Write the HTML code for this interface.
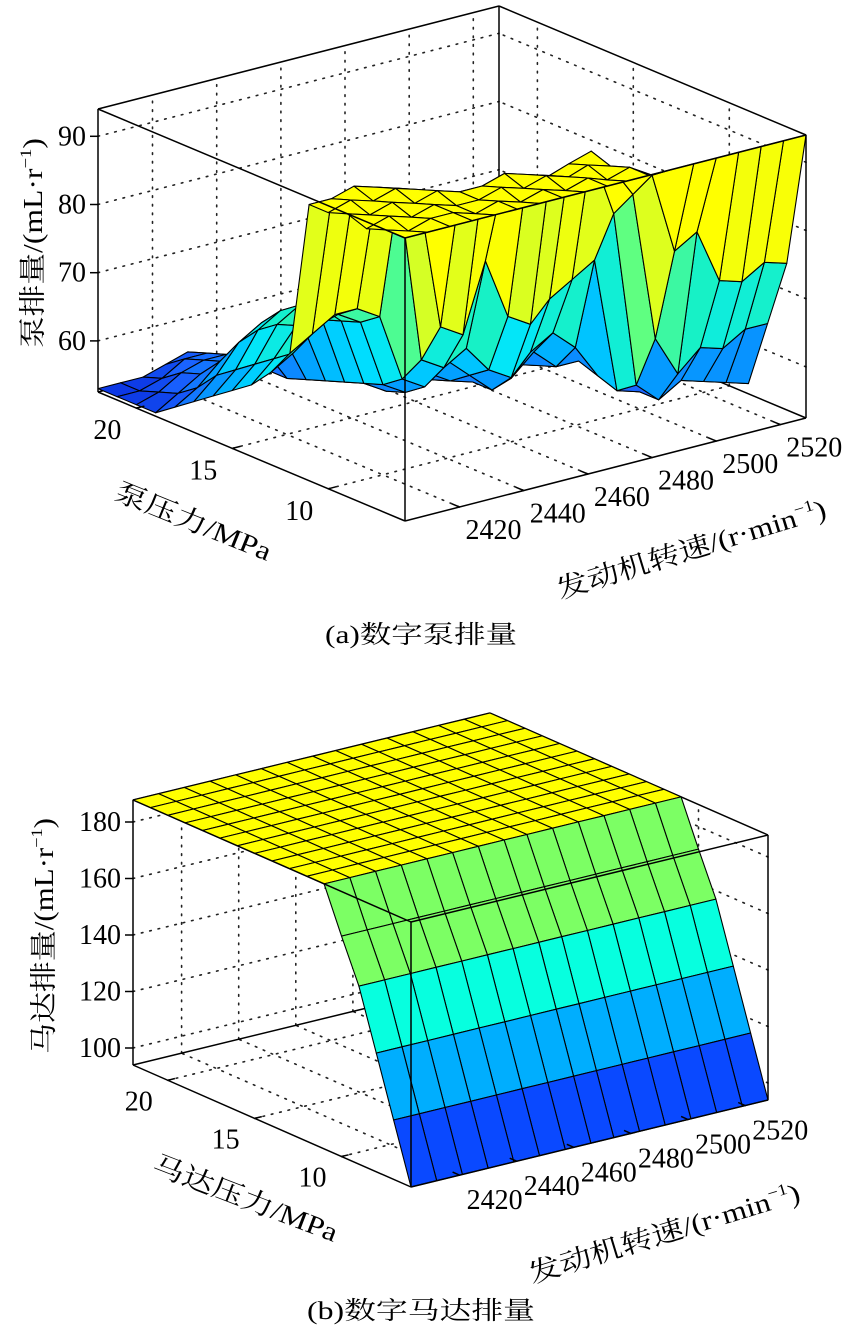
<!DOCTYPE html>
<html><head><meta charset="utf-8">
<style>
html,body{margin:0;padding:0;background:#fff;}
svg{display:block;}
text{font-family:"Liberation Serif","Times New Roman",Times,"Noto Serif CJK SC","Noto Sans CJK SC",serif;fill:#000;}
</style></head>
<body>
<svg id="fig" width="850" height="1329" viewBox="0 0 850 1329" xmlns="http://www.w3.org/2000/svg" font-family="'Liberation Serif', 'Noto Serif CJK SC', serif">
  <rect x="0" y="0" width="850" height="1329" fill="#fff"/>
  <g id="panelA"></g>
  <g id="panelB"></g>

  <text transform="translate(42,243) rotate(-90)" text-anchor="middle" font-size="27" textLength="210" lengthAdjust="spacingAndGlyphs">泵排量/(mL·r<tspan font-size="16" dy="-11">−1</tspan><tspan dy="11">)</tspan></text>
  <text transform="translate(190,530) rotate(22)" text-anchor="middle" font-size="27" textLength="166" lengthAdjust="spacingAndGlyphs">泵压力/MPa</text>
  <text transform="translate(694,558) rotate(-17)" text-anchor="middle" font-size="27" textLength="280" lengthAdjust="spacingAndGlyphs">发动机转速/(r·min<tspan font-size="16" dy="-11">−1</tspan><tspan dy="11">)</tspan></text>
  <text x="421" y="643" text-anchor="middle" font-size="25" textLength="192" lengthAdjust="spacingAndGlyphs">(a)数字泵排量</text>

  <text transform="translate(53,936) rotate(-90)" text-anchor="middle" font-size="27" textLength="236" lengthAdjust="spacingAndGlyphs">马达排量/(mL·r<tspan font-size="16" dy="-11">−1</tspan><tspan dy="11">)</tspan></text>
  <text transform="translate(242,1207) rotate(21)" text-anchor="middle" font-size="27" textLength="196" lengthAdjust="spacingAndGlyphs">马达压力/MPa</text>
  <text transform="translate(667,1242) rotate(-17)" text-anchor="middle" font-size="27" textLength="282" lengthAdjust="spacingAndGlyphs">发动机转速/(r·min<tspan font-size="16" dy="-11">−1</tspan><tspan dy="11">)</tspan></text>
  <text x="421" y="1319" text-anchor="middle" font-size="25" textLength="228" lengthAdjust="spacingAndGlyphs">(b)数字马达排量</text>
</svg>
<script>
// ---------- Panel A data ----------
const speedsA = [2403,2410,2417,2424,2431,2438,2445,2452,2459,2466,2472,2479,2486,2493,2500,2507,2514,2521,2528];
const pressuresA = [6,7,8,9,10,11,12,13,14,15,16,17,18,19,20,21,22];
const zA = [
 [94,94,94,94,94,94,94,94,94,94,94,94,94,94,94,94,94,94,94],
 [94,93,94,94,93,94,93,94,93,94,93,94,92,80,82,74,73,75,74],
 [93,94,93,94,93,93,94,93,94,93,94,93,88,66,60,63,62,64,64],
 [94,93,94,93,94,93,93,94,93,92,93,94,84,58,55,57,56,55,54],
 [93,94,93,94,93,72,70,80,71,69,72,74,76,56,55,56,55,54,54],
 [93,93,94,93,92,66,64,66,62,60,63,65,62,57,56,57,56,55,55],
 [70,72,74,74,72,62,60,63,60,57,58,61,58,58,57,58,57,56,56],
 [66,68,71,72,70,60,58,60,58,57,57,58,57,57,56,57,56,55,55],
 [63,66,70,72,69,59,57,58,57,56,56,57,56,56,56,56,55,55,55],
 [61,64,69,71,68,58,57,57,56,55,55,56,55,56,55,56,55,54,54],
 [59,62,67,69,66,57,56,56,55,55,55,55,55,55,55,55,54,54,54],
 [57,60,64,66,63,56,55,55,55,54,54,54,54,55,54,55,54,54,54],
 [55,57,60,62,60,55,55,54,54,54,54,54,54,54,54,54,54,53,53],
 [53,55,57,58,57,55,54,54,54,53,53,53,53,54,54,54,53,53,53],
 [53,54,56,57,57,54,54,53,53,53,53,53,53,53,53,53,53,53,53],
 [53,53,54,56,56,54,53,53,53,53,53,53,53,53,53,53,53,53,53],
 [53,53,53,54,55,53,53,53,53,53,53,53,53,53,53,53,53,53,53]
];
const zTicksA = [60,70,80,90];
const pTicksA = [10,15,20];
const sTicksA = [2420,2440,2460,2480,2500,2520];

// ---------- Panel B data ----------
const speedsB = [2403,2412,2421,2430,2439,2448,2457,2466,2474,2483,2492,2501,2510,2519,2528];
const pressuresB = [6,7,8,9,10,11,12,13,14,15,16,17,18,19,20,21,22];
const zRowsB = [94,115,136,157,172,187.8,187.8,187.8,187.8,187.8,187.8,187.8,187.8,187.8,187.8,187.8,187.8];
const zTicksB = [100,120,140,160,180];
const pTicksB = [10,15,20];
const sTicksB = [2420,2440,2460,2480,2500,2520];

// ---------- rendering ----------
const NS = 'http://www.w3.org/2000/svg';
const FONT = "'Liberation Serif', 'Times New Roman', Times, serif";
function mk(tag, attrs, parent){
  const e = document.createElementNS(NS, tag);
  for (const k in attrs) e.setAttribute(k, attrs[k]);
  parent.appendChild(e);
  return e;
}
function hex2rgb(h){ return [parseInt(h.substr(1,2),16),parseInt(h.substr(3,2),16),parseInt(h.substr(5,2),16)]; }
function cmap(stops, w){
  w = Math.max(0, Math.min(1, w));
  for (let k = 1; k < stops.length; k++){
    if (w <= stops[k][0]){
      const a = stops[k-1], b = stops[k];
      const t = (w - a[0]) / Math.max(1e-9, b[0] - a[0]);
      const ca = hex2rgb(a[1]), cb = hex2rgb(b[1]);
      return 'rgb(' + ca.map((c,i)=>Math.round(c + (cb[i]-c)*t)).join(',') + ')';
    }
  }
  return stops[stops.length-1][1];
}

function drawPanel(cfg, speeds, pressures, zAt, zTicks, pTicks, sTicks, g, tag){
  const [s0,s1] = cfg.s, [p0,p1] = cfg.p, [z0,z1] = cfg.z;
  const F = cfg.F, L = cfg.L, R = cfg.R, H = cfg.H;
  function proj(s, p, z){
    const u = (p - p0)/(p1 - p0), v = (s - s0)/(s1 - s0), w = (z - z0)/(z1 - z0);
    return [F[0] + u*(L[0]-F[0]) + v*(R[0]-F[0]),
            F[1] + u*(L[1]-F[1]) + v*(R[1]-F[1]) - w*H,
            cfg.d[0]*u + cfg.d[1]*v + cfg.d[2]*w];
  }
  function line(a, b, attrs, name){
    const e = mk('line', Object.assign({x1:a[0].toFixed(1), y1:a[1].toFixed(1), x2:b[0].toFixed(1), y2:b[1].toFixed(1)}, attrs), g);
    
    
    return e;
  }
  const dotted = {stroke:'#222', 'stroke-width':1.6, 'stroke-dasharray':'1.6 7', 'stroke-linecap':'round'};
  const solid = {stroke:'#000', 'stroke-width':1.5};

  sTicks.forEach(s => {
    line(proj(s,p0,z0), proj(s,p1,z0), dotted, 'floor-grid-speed');
    line(proj(s,p1,z0), proj(s,p1,z1), dotted, 'back-wall-grid-speed');
  });
  pTicks.forEach(p => {
    line(proj(s0,p,z0), proj(s1,p,z0), dotted, 'floor-grid-pressure');
    line(proj(s1,p,z0), proj(s1,p,z1), dotted, 'side-wall-grid-pressure');
  });
  zTicks.forEach(z => {
    line(proj(s0,p1,z), proj(s1,p1,z), dotted, 'back-wall-grid-z');
    line(proj(s1,p0,z), proj(s1,p1,z), dotted, 'side-wall-grid-z');
  });
  line(proj(s1,p1,z0), proj(s1,p1,z1), solid, 'box-edge-back-vertical');
  line(proj(s0,p1,z1), proj(s1,p1,z1), solid, 'box-edge-back-top-left');
  line(proj(s1,p1,z1), proj(s1,p0,z1), solid, 'box-edge-back-top-right');
  line(proj(s0,p1,z0), proj(s1,p1,z0), solid, 'box-edge-back-bottom-left');
  line(proj(s1,p1,z0), proj(s1,p0,z0), solid, 'box-edge-back-bottom-right');

  const faces = [];
  for (let i = 0; i < pressures.length - 1; i++){
    for (let j = 0; j < speeds.length - 1; j++){
      const zs = [zAt(i,j), zAt(i,j+1), zAt(i+1,j+1), zAt(i+1,j)];
      const pts = [proj(speeds[j],pressures[i],zs[0]), proj(speeds[j+1],pressures[i],zs[1]),
                   proj(speeds[j+1],pressures[i+1],zs[2]), proj(speeds[j],pressures[i+1],zs[3])];
      const zm = (zs[0]+zs[1]+zs[2]+zs[3])/4;
      const depth = (pts[0][2]+pts[1][2]+pts[2][2]+pts[3][2])/4;
      faces.push({pts, w:(zm - z0)/(z1 - z0), depth});
    }
  }
  faces.sort((a,b) => b.depth - a.depth);
  const sg = mk('g', {}, g);
  
  
  faces.forEach(f => {
    const e = mk('polygon', {
      points: f.pts.map(p => p[0].toFixed(1) + ',' + p[1].toFixed(1)).join(' '),
      fill: cmap(cfg.stops, f.w), stroke:'#000', 'stroke-width':1.1, 'stroke-linejoin':'round'
    }, sg);
    
    
  });

  line(proj(s0,p0,z0), proj(s0,p0,z1), solid, 'box-edge-front-vertical');
  line(proj(s0,p0,z0), proj(s0,p1,z0), solid, 'pressure-axis-line');
  line(proj(s0,p0,z0), proj(s1,p0,z0), solid, 'speed-axis-line');
  line(proj(s0,p0,z1), proj(s0,p1,z1), solid, 'box-edge-top-left');
  line(proj(s0,p0,z1), proj(s1,p0,z1), solid, 'box-edge-top-right');
  line(proj(s0,p1,z0), proj(s0,p1,z1), solid, 'z-axis-line');
  line(proj(s1,p0,z0), proj(s1,p0,z1), solid, 'box-edge-right-vertical');

  zTicks.forEach(z => {
    const a = proj(s0,p1,z);
    line([a[0]-8,a[1]], a, solid, 'z-tick');
    const t = mk('text', {x:(a[0]-12).toFixed(1), y:(a[1]+9).toFixed(1), 'text-anchor':'end', 'font-size':28, 'font-family':FONT}, g);
    t.textContent = z;
    
    
  });
  pTicks.forEach(p => {
    const a = proj(s0,p,z0);
    const b = proj(s0 + (s1-s0)*0.02, p, z0);
    line(a, b, solid, 'pressure-tick');
    const t = mk('text', {x:(a[0]+cfg.pOff[0]).toFixed(1), y:(a[1]+cfg.pOff[1]+9).toFixed(1), 'text-anchor':'middle', 'font-size':28, 'font-family':FONT}, g);
    t.textContent = p;
    
    
  });
  sTicks.forEach(s => {
    const a = proj(s,p0,z0);
    const b = proj(s, p0 + (p1-p0)*0.025, z0);
    line(a, b, solid, 'speed-tick');
    const t = mk('text', {x:(a[0]+cfg.sOff[0]).toFixed(1), y:(a[1]+cfg.sOff[1]+9).toFixed(1), 'text-anchor':'middle', 'font-size':28, 'font-family':FONT}, g);
    t.textContent = s;
    
    
  });
}

const cfgA = {
  F:[405,521], L:[98,392], R:[806,418], H:283,
  s:[2403,2528], p:[6,22], z:[52.5,94],
  d:[371,296,-98],
  pOff:[-29,22], sOff:[34,23],
  stops:[[0,'#0a30e0'],[0.08,'#1a64ff'],[0.2,'#00a8ff'],[0.3,'#00e4ff'],[0.42,'#18f2c4'],[0.52,'#60ff80'],[0.65,'#c8ff30'],[0.78,'#ffff00'],[1,'#ffff00']]
};
const cfgB = {
  F:[411,1187], L:[133,1065], R:[768,1100], H:265,
  s:[2403,2528], p:[6,22], z:[94,187.8],
  d:[352,251,-92],
  pOff:[-29,21], sOff:[35,25],
  stops:[[0,'#0a40ff'],[0.15,'#0a4cff'],[0.33,'#00acff'],[0.55,'#00ffe6'],[0.72,'#7cff64'],[0.93,'#7cff64'],[0.97,'#ffff00'],[1,'#ffff00']]
};

drawPanel(cfgA, speedsA, pressuresA, (i,j) => zA[i][j], zTicksA, pTicksA, sTicksA, document.getElementById('panelA'), 'a');
drawPanel(cfgB, speedsB, pressuresB, (i,j) => zRowsB[i], zTicksB, pTicksB, sTicksB, document.getElementById('panelB'), 'b');
</script>
</body></html>
